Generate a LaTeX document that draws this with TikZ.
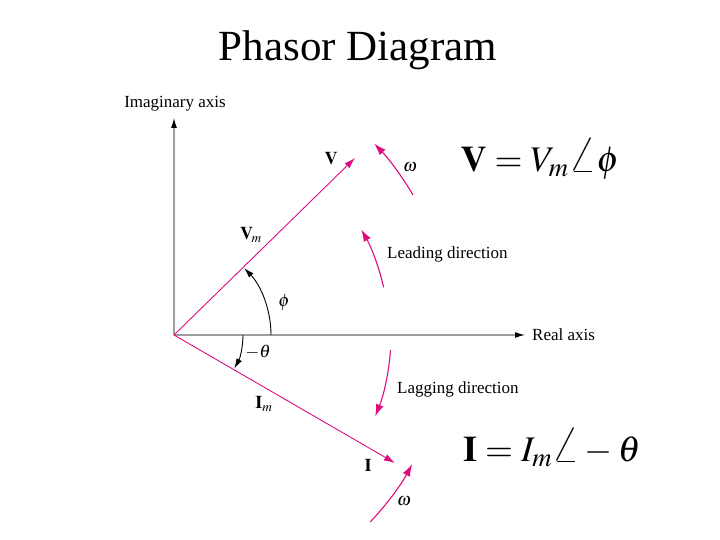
\documentclass[tikz,border=0pt]{standalone}
\usepackage{mathptmx}
\usepackage{fontspec}
\setmainfont{Liberation Serif}
\usepackage{tikz}
\usetikzlibrary{arrows.meta,positioning}

\definecolor{phasorpink}{RGB}{222,12,128}
\newcommand{\bigangle}{\mathord{\scalebox{1.35}{$\angle$}}}

\begin{document}
\begin{tikzpicture}[x=1pt,y=1pt,
    axisline/.style={draw=gray!75, line width=1.1pt, -{Latex[length=10pt,width=6pt,color=black]}},
    phasor/.style={draw=phasorpink, line width=0.9pt, -{Latex[length=11pt,width=7pt]}},
    turnarc/.style={draw=phasorpink, line width=1.1pt, -{Latex[length=12pt,width=8pt]}},
    angarrow/.style={draw=black, line width=0.9pt, -{Latex[length=10pt,width=6pt]}},
    lbl/.style={font=\fontsize{17}{20}\selectfont, inner sep=1pt},
    small/.style={font=\fontsize{18}{21}\selectfont, inner sep=1pt},
    eqn/.style={font=\fontsize{36}{40}\selectfont, inner sep=1pt}]
  \useasboundingbox (0,0) rectangle (720,540);

  % title
  \node (title) at (358,490) {\fontsize{43}{48}\selectfont Phasor Diagram};

  % axes
  \coordinate (O) at (174,205);
  \coordinate (imtop) at (174,422);
  \coordinate (reend) at (525,205);
  \draw[axisline] (O) -- (imtop);
  \draw[axisline] (O) -- (reend);
  \node[lbl] (imlab) at (175,436) {Imaginary axis};
  \node[lbl, right=6pt of reend] (relab) {Real axis};

  % phasors V and I
  \coordinate (Vtip) at (355,382);
  \coordinate (Itip) at (395,77);
  \draw[phasor] (O) -- (Vtip);
  \draw[phasor] (O) -- (Itip);
  \node[small] (Vlab) at (331,381) {$\mathbf{V}$};
  \node[small] (Vmlab) at (251,305) {$\mathbf{V}_{\!m}$};
  \node[small] (Ilab) at (368,75) {$\mathbf{I}$};
  \node[small] (Imlab) at (264,136) {$\mathbf{I}_{m}$};

  % angles phi and -theta
  \draw[angarrow] ([shift={(0:97)}]O) arc[start angle=0, end angle=43.6, radius=97];
  \draw[angarrow] ([shift={(0:69)}]O) arc[start angle=0, end angle=-29, radius=69];
  \node[small] (philab) at (284,238) {$\phi$};
  \node[small] (thlab) at (258,188) {$-\theta$};

  % rotation arrows
  \draw[turnarc] ([shift={(30.4:277)}]O) arc[start angle=30.4, end angle=43.7, radius=277];
  \node[small] (w1) at (410,373) {$\omega$};
  \draw[turnarc] ([shift={(12.8:215)}]O) arc[start angle=12.8, end angle=29.4, radius=215];
  \node[lbl, anchor=west] (lead) at (386,286) {Leading direction};
  \draw[turnarc] ([shift={(-4:217)}]O) arc[start angle=-4, end angle=-22, radius=217];
  \node[lbl, anchor=west] (lag) at (396,151) {Lagging direction};
  \draw[turnarc] ([shift={(-43.6:271)}]O) arc[start angle=-43.6, end angle=-28.5, radius=271];
  \node[small] (w2) at (404,39) {$\omega$};

  % polar forms
  \node[eqn] (Veq) at (540,381) {$\mathbf{V} = V_{m}\bigangle\phi$};
  \node[eqn] (Ieq) at (552,92) {$\mathbf{I} = I_{m}\bigangle -\theta$};
\end{tikzpicture}
\end{document}
